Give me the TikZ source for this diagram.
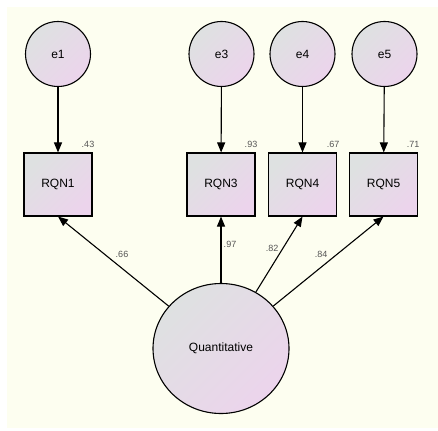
\documentclass[tikz,border=0pt]{standalone}
\usepackage{fontspec}
\setmainfont{Liberation Sans}
\usetikzlibrary{arrows.meta,shapes.geometric}
\definecolor{paper}{RGB}{253,254,240}
\definecolor{fillA}{RGB}{222,225,225}
\definecolor{fillB}{RGB}{236,212,236}
\definecolor{coef}{RGB}{85,85,85}
\tikzset{
  grad/.style={draw=black, line width=1.1pt, top color=fillA, bottom color=fillB, shading angle=45},
  errvar/.style={grad, circle, minimum size=65pt, inner sep=0pt, font=\fontsize{12}{14}\selectfont},
  obsvar/.style={grad, rectangle, minimum width=68pt, minimum height=63pt, inner sep=0pt, font=\fontsize{12}{14}\selectfont},
  latvar/.style={grad, ellipse, minimum width=136pt, minimum height=130pt, inner sep=0pt, font=\fontsize{12}{14}\selectfont},
  path/.style={line width=1.1pt, -{Triangle[length=10pt,width=8pt]}},
  coefl/.style={text=coef, inner sep=0pt, font=\fontsize{9}{10}\selectfont},
}
\begin{document}
\begin{tikzpicture}[x=1pt,y=-1pt]
  \useasboundingbox (0,0) rectangle (438,430);
  \fill[white] (0,0) rectangle (438,430);
  \fill[paper] (7,7) rectangle (438,428);

  % error terms
  \node[errvar] (e1) at (58,54) {e1};
  \node[errvar] (e3) at (221.5,54) {e3};
  \node[errvar] (e4) at (302.5,54) {e4};
  \node[errvar] (e5) at (384.5,54) {e5};

  % observed indicators
  \node[obsvar] (r1) at (58,184.5) {RQN1};
  \node[obsvar] (r3) at (221,184.5) {RQN3};
  \node[obsvar] (r4) at (302.5,184.5) {RQN4};
  \node[obsvar] (r5) at (383.5,184.5) {RQN5};

  % latent factor
  \node[latvar] (q) at (221,348.5) {Quantitative};

  % error paths
  \draw[path] (e1) -- (r1);
  \draw[path] (e3) -- (r3);
  \draw[path] (e4) -- (r4);
  \draw[path] (e5) -- (r5);

  % factor loadings
  \draw[path] (q) -- (r1.south);
  \draw[path] (q) -- (r3.south);
  \draw[path] (q) -- (r4.south);
  \draw[path] (q) -- (r5.south);

  % squared multiple correlations
  \node[coefl] (s1) at (88,144) {.43};
  \node[coefl] (s3) at (251,144) {.93};
  \node[coefl] (s4) at (333,144) {.67};
  \node[coefl] (s5) at (413,144) {.71};

  % standardized loadings
  \node[coefl] (l1) at (122,254) {.66};
  \node[coefl] (l3) at (230,244) {.97};
  \node[coefl] (l4) at (272,248) {.82};
  \node[coefl] (l5) at (321,254) {.84};
\end{tikzpicture}
\end{document}
